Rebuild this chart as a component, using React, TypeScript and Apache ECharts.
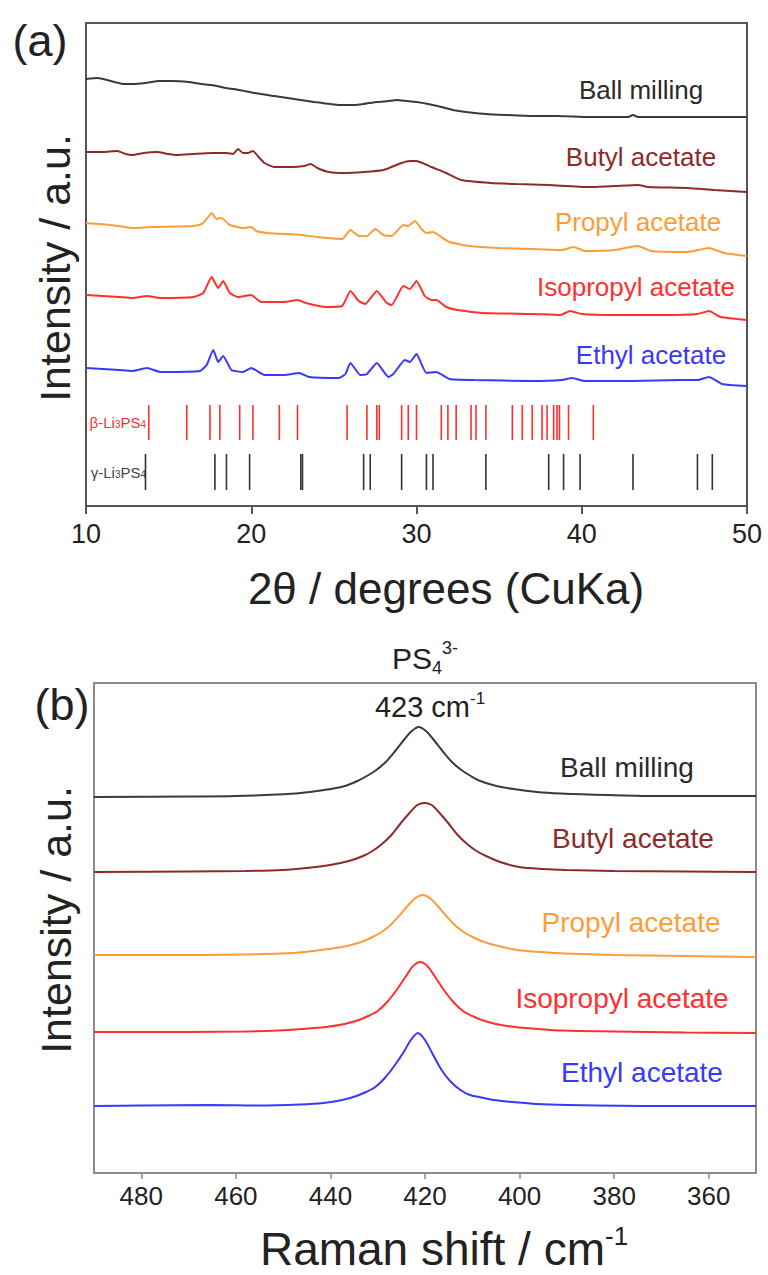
import React, { useEffect, useRef } from "react";
import * as echarts from "echarts";

const FONT = "'Liberation Sans', Arial, sans-serif";

// ---------- (a) XRD : [2theta, intensity (a.u., stacked)] ----------
const xrdBallMilling = [[10,427],[10.7,428],[11.5,425],[12.3,422],[12.8,422],[13.6,423],[14.4,425],[15.2,425],[16.2,424],[17.0,422],[17.6,421],[18.5,418],[19.3,416],[20.2,413],[21.4,410],[22.6,407],[23.8,404],[25.3,401],[26.2,401],[26.8,402],[27.6,404],[28.3,405],[28.8,406],[29.4,405],[30.0,404],[30.7,402],[31.5,399],[32.2,396],[33.0,394],[34.2,392],[35.4,391],[37.0,390],[38.5,390],[40.4,389],[42.0,389],[42.8,389],[43.1,391],[43.4,389],[45.0,389],[47.0,389],[48.5,389],[50,389]];
const xrdButyl = [[10,354],[11.0,354],[11.9,355],[12.4,352],[12.8,351],[13.5,353],[14.3,354],[15.0,352],[15.5,351],[16.5,352],[17.6,353],[18.5,353],[18.9,352],[19.2,357],[19.5,353],[19.8,353],[20.1,355],[20.5,348],[20.8,343],[21.4,339],[22.5,339],[23.2,340],[23.6,342],[24.0,338],[24.7,334],[25.6,333],[26.8,334],[28.0,336],[29.1,343],[29.6,345],[30.0,345],[30.5,342],[30.9,339],[31.8,333],[32.7,326],[34.5,323],[36,322],[38,321],[40.4,319],[42,320],[43.4,321],[44,319],[46.4,318],[48,316],[50,314]];
const xrdPropyl = [[10,283],[11.5,281],[12.8,278],[14,279],[16.5,280],[17.0,282],[17.3,287],[17.6,293],[17.9,287],[18.1,288],[18.3,287],[18.7,281],[19.5,278],[20.0,279],[20.3,275],[21.0,273],[23,271],[24.0,269],[25.5,267],[26.0,276],[26.5,270],[27.0,270],[27.5,277],[28.0,271],[28.5,270],[29.2,281],[29.5,280],[29.9,285],[30.3,277],[30.6,273],[31.0,274],[31.5,269],[32.0,264],[33.2,260],[35,258],[37,257],[38.8,256],[39.5,259],[40.2,255],[42,256],[43.4,260],[44.2,255],[46.4,254],[47.7,258],[48.6,253],[50,250]];
const xrdIsopropyl = [[10,211],[12,209],[12.8,208],[13.7,210],[14.5,208],[16.5,209],[17.1,213],[17.6,229],[18.0,218],[18.3,225],[18.7,213],[19.2,209],[20.0,211],[20.6,204],[22,204],[22.8,206],[23.3,203],[24.5,199],[25.5,200],[26.0,215],[26.5,205],[26.9,202],[27.6,215],[28.2,203],[28.5,201],[29.2,220],[29.6,217],[30.0,225],[30.5,210],[30.9,206],[31.2,206],[31.8,199],[32.5,196],[34,193],[37,192],[38.7,191],[39.3,195],[40,192],[42,191],[45,191],[47.0,192],[47.7,195],[48.4,189],[50,186]];
const xrdEthyl = [[10,138],[12,136],[12.8,135],[13.7,138],[14.5,134],[16.9,135],[17.3,141],[17.7,156],[18.0,144],[18.3,150],[18.8,136],[19.5,134],[20.0,138],[20.8,131],[22.0,131],[22.9,133],[23.5,129],[25.3,128],[25.7,132],[26.0,143],[26.6,131],[27.0,132],[27.6,143],[28.3,129],[28.6,132],[29.3,146],[29.6,144],[30.0,152],[30.6,133],[31.2,134],[32.0,127],[33.5,126],[37,125],[38.8,126],[39.4,128],[40.2,125],[43,125],[46,126],[47.0,126],[47.7,129],[48.5,122],[50,120]];

// reference stick positions (2theta)
const betaSticks = [13.8,16.1,17.5,18.1,19.3,20.1,21.7,22.8,25.8,27.0,27.6,27.75,29.1,29.5,30.0,31.5,31.9,32.4,33.3,33.6,34.2,35.8,36.4,37.0,37.6,37.9,38.3,38.5,38.65,39.2,40.7];
const gammaSticks = [13.6,17.8,18.5,19.9,23.0,23.1,26.8,27.2,29.1,30.6,31.0,34.2,38.0,38.9,39.9,43.1,47.0,47.9];
const betaRange = [66, 101];
const gammaRange = [16, 52];

const xrdTicks = [10, 20, 30, 40, 50];

// ---------- (b) Raman : [shift cm-1, intensity (a.u., stacked)] ----------
const ramanBallMilling = [[490,376],[470,376.5],[460,377],[451.3,378.5],[446.3,380],[441.3,383],[437.3,386.5],[434.3,392],[432.3,397],[430.3,403],[428.3,411],[426.3,422],[424.3,434],[422.8,442],[421.3,446],[419.8,442],[418.3,434],[416.3,422],[414.3,411],[412.3,403],[410.3,397],[408.3,392],[405.3,387.5],[401.3,384],[396.3,381],[391.3,379.5],[381.3,378],[370,377],[350,377]];
const ramanButyl = [[490,301],[470,301.5],[458,302],[450.1,303],[445.1,305],[440.1,308],[436.1,312],[433.1,317],[431.1,322],[429.1,329],[427.1,338],[425.1,350],[423.1,361],[421.6,368],[420.1,370],[418.6,368],[417.1,361],[415.1,350],[413.1,338],[411.1,329],[409.1,322],[407.1,317],[404.1,311],[400.1,306],[395.1,304],[390.1,303],[380,302],[365,301.5],[350,301]];
const ramanPropyl = [[490,218],[470,218],[460,218.5],[450.5,219.5],[445.5,221],[440.5,224],[436.5,227],[433.5,231],[431.5,235],[429.5,240],[427.5,247],[425.5,257],[423.5,268],[422,275],[420.5,278],[419,275],[417.5,268],[415.5,257],[413.5,247],[411.5,240],[409.5,235],[407.5,231],[404.5,227],[400.5,223],[395.5,221],[390.5,219.5],[380,218],[365,217],[350,216]];
const ramanIsopropyl = [[490,141],[470,141],[458,141.5],[451,142.5],[446,144],[441,146],[437,149],[434,153],[432,157],[430,162],[428,171],[426,183],[424,197],[422.5,207],[421,211],[419.5,207],[418,197],[416,183],[414,171],[412,162],[410,157],[408,153],[405,149],[401,146],[396,144],[391,142.5],[380,141.5],[365,140.5],[350,140]];
const ramanEthyl = [[490,67],[480,67.5],[465,68],[455,67.5],[446.5,68.5],[441.5,70],[437.5,73],[434.5,77],[432.5,81],[430.5,86],[428.5,95],[426.5,107],[424.5,121],[423,133],[421.5,140],[420,133],[418.5,120],[416.5,103],[414.5,91],[412.5,83],[410.5,78],[408.5,76],[405.5,73],[401.5,71],[396.5,69],[390,68],[370,67],[350,67]];

const ramanTicks = [360, 380, 400, 420, 440, 460, 480];

const names = ["Ball milling", "Butyl acetate", "Propyl acetate", "Isopropyl acetate", "Ethyl acetate"];
const colors = ["#3a3a3a", "#8e2a2a", "#ff9c3a", "#ff3030", "#3838ff"];
const textColors = ["#2a2a2a", "#8e2a2a", "#ff9c3a", "#ff3030", "#3838ff"];

const xrdSeries = [xrdBallMilling, xrdButyl, xrdPropyl, xrdIsopropyl, xrdEthyl];
const ramanSeries = [ramanBallMilling, ramanButyl, ramanPropyl, ramanIsopropyl, ramanEthyl];

export default function App() {
  const ref = useRef<HTMLDivElement>(null);
  useEffect(() => {
    if (!ref.current) return;
    const chart = echarts.init(ref.current, null, { renderer: "svg" });

    const stickSeries = (data: number[], range: number[], color: string) => ({
      type: "custom",
      xAxisIndex: 0,
      yAxisIndex: 0,
      data: data.map((x) => [x, range[0], range[1]]),
      encode: { x: 0, y: [1, 2] },
      renderItem: (params: any, api: any) => {
        const p1 = api.coord([api.value(0), api.value(1)]);
        const p2 = api.coord([api.value(0), api.value(2)]);
        return {
          type: "line",
          shape: { x1: p1[0], y1: p1[1], x2: p2[0], y2: p2[1] },
          style: { stroke: color, lineWidth: 1.6 },
        };
      },
      silent: true,
    });

    const xrdLines = xrdSeries.map((d, i) => ({
      type: "line",
      name: "XRD " + names[i],
      xAxisIndex: 0,
      yAxisIndex: 0,
      data: d,
      showSymbol: false,
      smooth: 0.15,
      lineStyle: { color: colors[i], width: 2 },
      silent: true,
    }));
    const ramanLines = ramanSeries.map((d, i) => ({
      type: "line",
      name: "Raman " + names[i],
      xAxisIndex: 1,
      yAxisIndex: 1,
      data: d,
      showSymbol: false,
      smooth: 0.3,
      lineStyle: { color: colors[i], width: 2 },
      silent: true,
    }));

    const xrdLabelPos = [[641, 90], [641, 157], [638, 222], [636, 287], [651, 355]];
    const ramanLabelPos = [[627, 767], [633, 838], [631, 922], [622, 998], [642, 1072]];

    const txt = (x: number, y: number, text: string, fontSize: number, fill: string, align = "center", extra: any = {}, rotation = 0) => ({
      type: "text",
      x,
      y,
      rotation,
      silent: true,
      style: {
        text,
        fontSize,
        fontFamily: FONT,
        fill,
        align,
        verticalAlign: "middle",
        ...extra,
      },
    });

    const sub = (fs: number, fill: string) => ({ fontSize: fs, fill, verticalAlign: "bottom", fontFamily: FONT });
    const sup = (fs: number, fill: string) => ({ fontSize: fs, fill, verticalAlign: "top", fontFamily: FONT });

    const graphics: any[] = [
      txt(40, 40, "(a)", 45, "#222"),
      txt(62, 704, "(b)", 45, "#222"),
      txt(55, 268, "Intensity / a.u.", 43, "#222", "center", {}, Math.PI / 2),
      txt(56, 920, "Intensity / a.u.", 43, "#222", "center", {}, Math.PI / 2),
      ...names.map((n, i) => txt(xrdLabelPos[i][0], xrdLabelPos[i][1], n, 26, textColors[i])),
      ...names.map((n, i) => txt(ramanLabelPos[i][0], ramanLabelPos[i][1], n, 28, textColors[i])),
      txt(146, 422, "{m|β-Li}{s|3}{m|PS}{s|4}", 15, "#ff3030", "right", {
        rich: { m: { fontSize: 15, fill: "#ff3030", fontFamily: FONT }, s: sub(10, "#ff3030") },
      }),
      txt(146, 472, "{m|γ-Li}{s|3}{m|PS}{s|4}", 15, "#444", "right", {
        rich: { m: { fontSize: 15, fill: "#444", fontFamily: FONT }, s: sub(10, "#444") },
      }),
      txt(446, 588, "2θ / degrees (CuKa)", 44, "#222"),
      txt(444, 1249, "{m|Raman shift / cm}{s|-1}", 46, "#222", "center", {
        rich: { m: { fontSize: 46, fill: "#222", fontFamily: FONT, lineHeight: 52 }, s: sup(26, "#222") },
      }),
      txt(425, 658, "{m|PS}{s|4}{p|3-}", 30, "#222", "center", {
        rich: { m: { fontSize: 30, fill: "#222", fontFamily: FONT, lineHeight: 38 }, s: sub(18, "#222"), p: sup(18, "#222") },
      }),
      txt(430, 707, "{m|423 cm}{s|-1}", 29, "#222", "center", {
        rich: { m: { fontSize: 29, fill: "#222", fontFamily: FONT, lineHeight: 34 }, s: sup(17, "#222") },
      }),
    ];

    chart.setOption({
      animation: false,
      textStyle: { fontFamily: FONT },
      grid: [
        { left: 86, top: 23, width: 661, height: 483, show: true, borderColor: "#555", borderWidth: 2, backgroundColor: "transparent" },
        { left: 94, top: 683, width: 662, height: 490, show: true, borderColor: "#8c8c8c", borderWidth: 2, backgroundColor: "transparent" },
      ],
      xAxis: [
        {
          gridIndex: 0, type: "value", min: 10, max: 50, interval: 10,
          axisLine: { lineStyle: { color: "#555", width: 2 } },
          axisTick: { length: 8, lineStyle: { color: "#555", width: 2 }, customValues: xrdTicks },
          axisLabel: { fontSize: 27, color: "#222", margin: 14, fontFamily: FONT, customValues: xrdTicks },
          splitLine: { show: false },
        },
        {
          gridIndex: 1, type: "value", min: 350, max: 490, inverse: true,
          axisLine: { lineStyle: { color: "#8c8c8c", width: 2 } },
          axisTick: { length: 6, lineStyle: { color: "#8c8c8c", width: 1.5 }, customValues: ramanTicks },
          axisLabel: { fontSize: 26, color: "#222", margin: 10, fontFamily: FONT, customValues: ramanTicks },
          splitLine: { show: false },
        },
      ],
      yAxis: [
        {
          gridIndex: 0, type: "value", min: 0, max: 483,
          axisLine: { show: false }, axisTick: { show: false }, axisLabel: { show: false }, splitLine: { show: false },
        },
        {
          gridIndex: 1, type: "value", min: 0, max: 490,
          axisLine: { show: false }, axisTick: { show: false }, axisLabel: { show: false }, splitLine: { show: false },
        },
      ],
      series: [
        ...xrdLines,
        stickSeries(betaSticks, betaRange, "#ff3030"),
        stickSeries(gammaSticks, gammaRange, "#333"),
        ...ramanLines,
      ],
      graphic: graphics,
    });
    return () => chart.dispose();
  }, []);
  return <div ref={ref} style={{ position: "fixed", left: 0, top: 0, width: 768, height: 1275, background: "#fff" }} />;
}
